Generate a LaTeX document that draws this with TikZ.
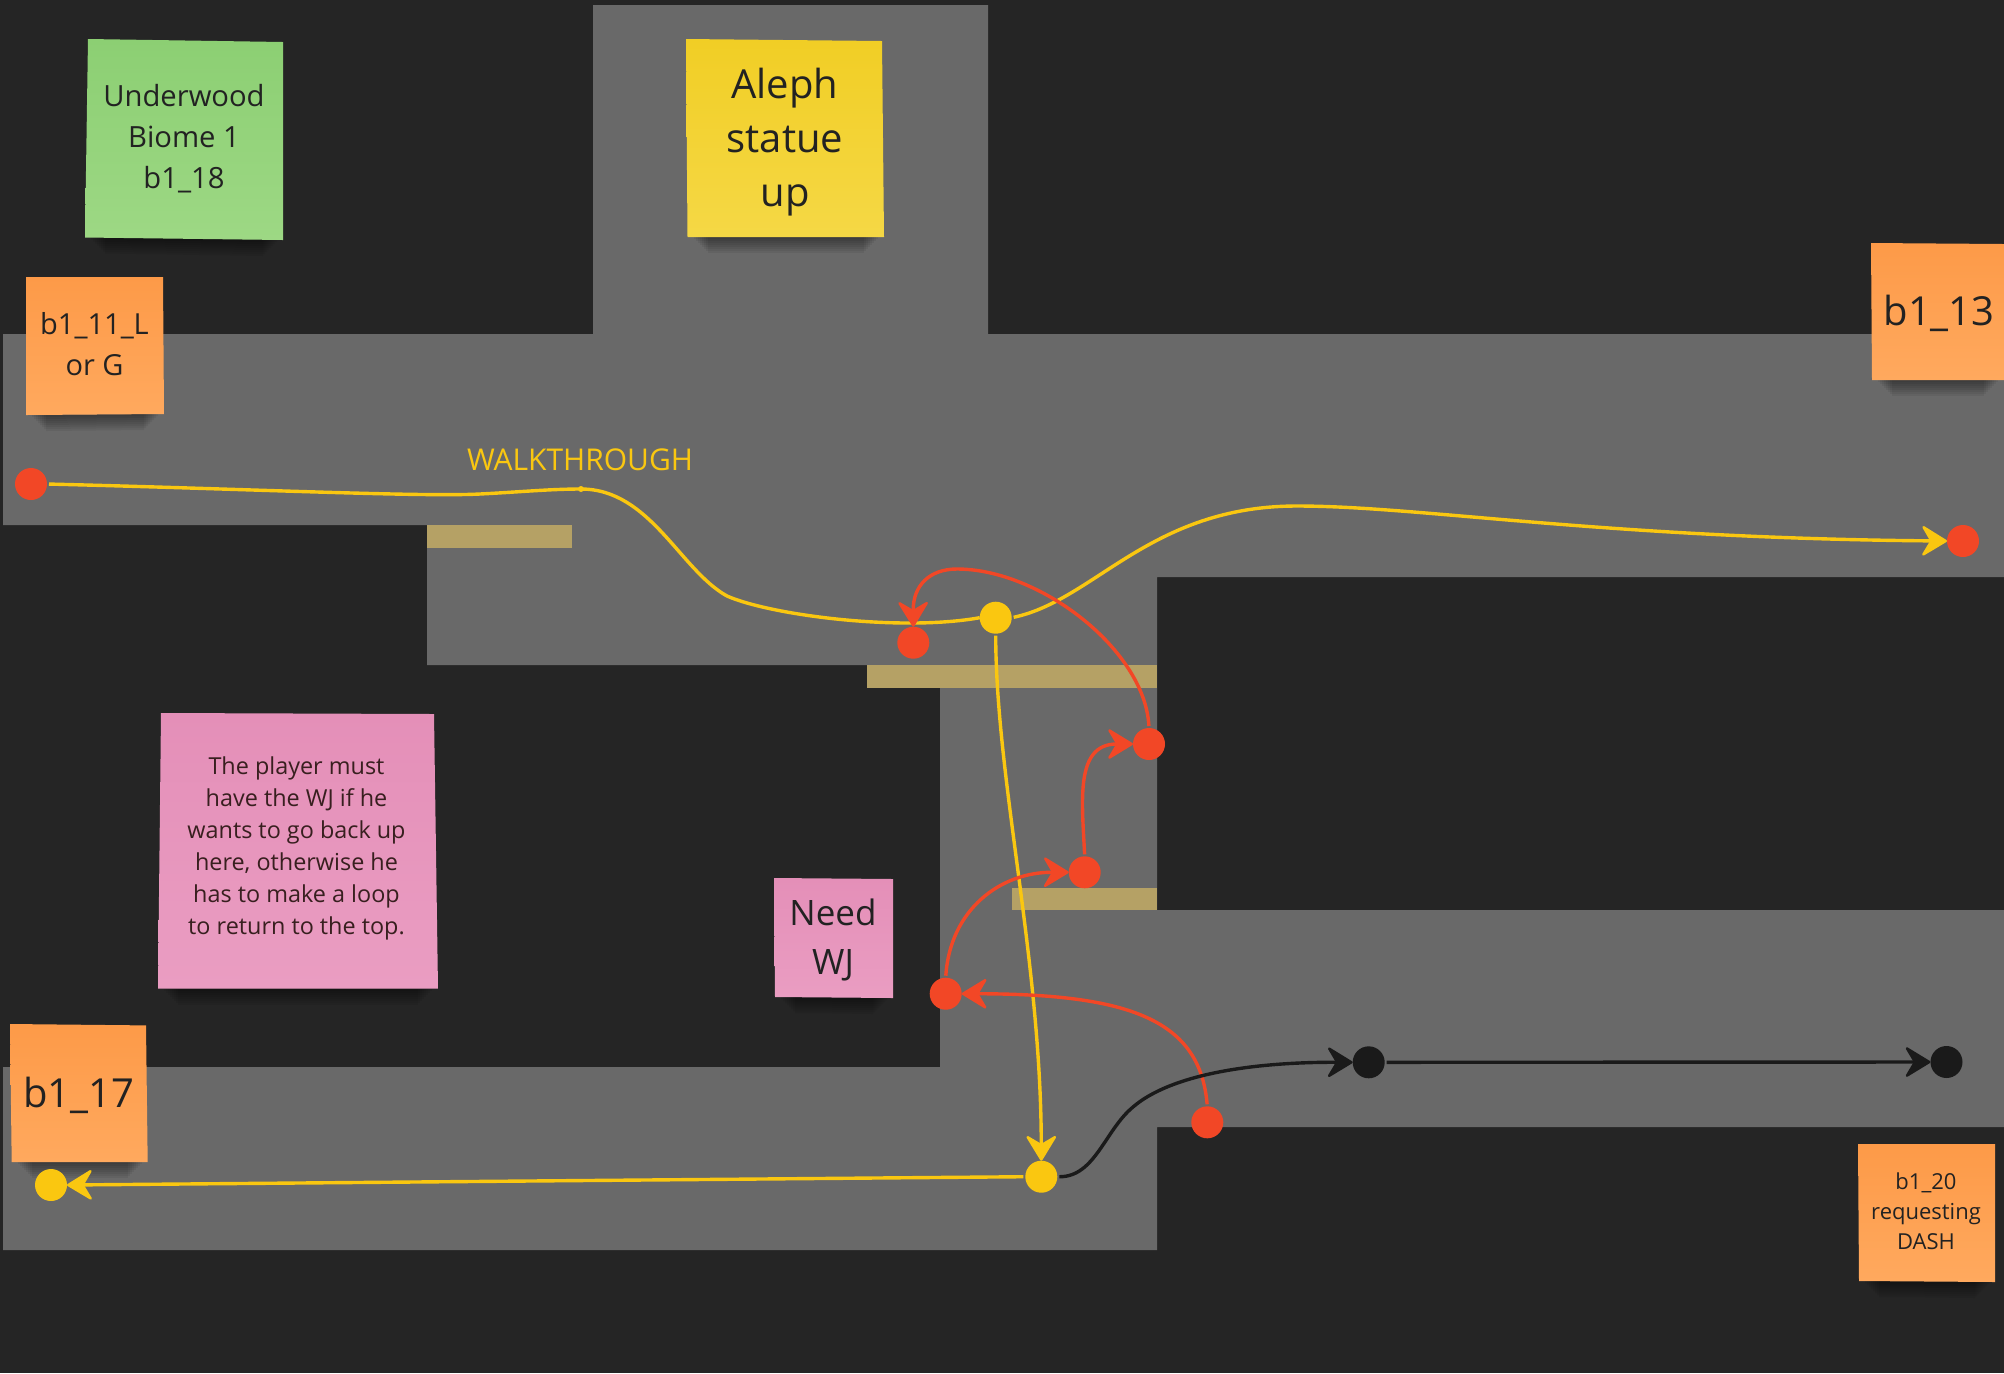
\documentclass[tikz,border=0pt]{standalone}
\usepackage{fontspec}
\setmainfont{Open Sans}
\usetikzlibrary{arrows.meta}
\definecolor{bgdark}{HTML}{252525}
\definecolor{corr}{HTML}{696969}
\definecolor{bandc}{HTML}{B5A165}
\definecolor{redc}{HTML}{F24726}
\definecolor{yelc}{HTML}{FAC710}
\definecolor{blkc}{HTML}{1A1A1A}
\definecolor{inkc}{HTML}{222222}
\definecolor{greenT}{HTML}{8CCF73}
\definecolor{greenB}{HTML}{9DD884}
\definecolor{yellT}{HTML}{F1CE25}
\definecolor{yellB}{HTML}{F5D845}
\definecolor{oranT}{HTML}{FD9A48}
\definecolor{oranB}{HTML}{FFA95E}
\definecolor{pinkT}{HTML}{E48FB8}
\definecolor{pinkB}{HTML}{EA9DC2}
\tikzset{
  dot/.style={circle,minimum size=16pt,inner sep=0pt,outer sep=0pt,draw=none},
  reddot/.style={dot,fill=redc},
  yeldot/.style={dot,fill=yelc},
  blkdot/.style={dot,fill=blkc},
  conn/.style={line width=1.7pt,shorten <=1pt,-{Stealth[length=14pt,width=17pt,inset=5pt,round,line width=1.2pt]}},
  plainconn/.style={line width=1.7pt,shorten <=1pt},
  redconn/.style={conn,draw=redc},
  yelconn/.style={conn,draw=yelc},
  blkconn/.style={conn,draw=blkc},
  notetext/.style={align=center,text=inkc,inner sep=0pt},
}
% four corners, then top and bottom colours
\newcommand{\stickynote}[6]{%
  \foreach \sh/\ins in {2/3,4/4,6/5,8/6,10/7,12/8,14/9,16/10}{
    \fill[black,opacity=.06] ([xshift=\ins pt,yshift=-\sh*0.5pt]#4) -- ([xshift=-\ins pt,yshift=-\sh*0.5pt]#3) -- ([xshift=-\ins pt]#3) -- ([xshift=\ins pt]#4) -- cycle;
  }
  \shade[top color=#5,bottom color=#6] (#1) -- (#2) -- (#3) -- (#4) -- cycle;
}
\begin{document}
\begin{tikzpicture}[x=0.5pt,y=-0.5pt]
\useasboundingbox (0,0) rectangle (2004,1373);
\fill[bgdark] (0,0) rectangle (2004,1373);
% corridors
\fill[corr] (593,5) -- (988,5) -- (988,334) -- (2004,334) -- (2004,577) -- (1157,577)
  -- (1157,910) -- (2004,910) -- (2004,1127) -- (1157,1127) -- (1157,1250) -- (3,1250)
  -- (3,1067) -- (940,1067) -- (940,665) -- (427,665) -- (427,525) -- (3,525) -- (3,334)
  -- (593,334) -- cycle;
% bands
\fill[bandc] (427,525) rectangle (572,548);
\fill[bandc] (867,665) rectangle (1157,688);
\fill[bandc] (1012,888) rectangle (1157,910);
% notes
\stickynote{88,39}{283,42}{283,240}{85,237.5}{greenT}{greenB}
\stickynote{686,39}{882,41}{884,237}{687.5,237}{yellT}{yellB}
\stickynote{26,277}{163,277}{164,414}{26,415}{oranT}{oranB}
\stickynote{1871,243}{2004,244}{2004,380}{1872,380}{oranT}{oranB}
\stickynote{161,713}{434,714}{438,988.6}{158,988.6}{pinkT}{pinkB}
\stickynote{774,878}{893,879}{893,998}{775,997}{pinkT}{pinkB}
\stickynote{10,1024}{146,1025.4}{147.7,1162}{11.7,1162}{oranT}{oranB}
\stickynote{1858,1144}{1995,1144}{1995,1282}{1859,1281}{oranT}{oranB}
% note texts
\node[notetext,font=\fontsize{14.6}{20.5}\selectfont] (n18) at (184,138.3) {Underwood\\Biome 1\\b1\_18};
\node[notetext,font=\fontsize{20}{27}\selectfont] (naleph) at (785,142) {Aleph\\statue\\up};
\node[notetext,font=\fontsize{14.5}{20.5}\selectfont] (n11) at (94.5,344.5) {b1\_11\_L\\or G};
\node[notetext,font=\fontsize{20}{27}\selectfont] (n13) at (1939,313.5) {b1\_13};
\node[notetext,font=\fontsize{20}{27}\selectfont] (n17) at (79,1095.5) {b1\_17};
\node[notetext,text=inkc!90!red,font=\fontsize{11.7}{16}\selectfont] (npink) at (296.5,848.7) {The player must\\have the WJ if he\\wants to go back up\\here, otherwise he\\has to make a loop\\to return to the top.};
\node[notetext,font=\fontsize{17.5}{24.5}\selectfont] (nwj) at (833,939.5) {Need\\WJ};
\node[notetext,font=\fontsize{11}{15}\selectfont] (n20) at (1926,1211) {b1\_20\\requesting\\DASH};
\node[text=yelc,inner sep=0pt,font=\fontsize{15}{18}\selectfont] (walk) at (580,460) {WALKTHROUGH};
% nodes
\node[reddot] (start) at (31,484) {};
\node[circle,fill=yelc,minimum size=3pt,inner sep=0pt] (wp) at (581,489) {};
\node[reddot] (ra) at (913.3,642.7) {};
\node[yeldot] (y1) at (995.7,617.7) {};
\node[reddot] (rend) at (1963,541) {};
\node[reddot] (r2) at (1149,744) {};
\node[reddot] (r3) at (1084.7,872.3) {};
\node[reddot] (r4) at (945.7,993.7) {};
\node[reddot] (r5) at (1207.3,1122.3) {};
\node[yeldot] (y2) at (1041.3,1176.7) {};
\node[yeldot] (yend) at (51,1185) {};
\node[blkdot] (b1) at (1368.7,1062.3) {};
\node[blkdot] (b2) at (1946.5,1062) {};
% yellow walkthrough
\draw[plainconn,draw=yelc] (start.east) .. controls (250,489) and (420,497) .. (480,494) .. controls (520,492) and (550,489) .. (wp.center);
\draw[plainconn,draw=yelc,shorten <=0pt] (wp.center) .. controls (650,489) and (680,570) .. (727,596) .. controls (770,615) and (900,632) .. (y1.west);
\draw[yelconn] (y1.east) .. controls (1095,600) and (1150,506) .. (1297,506) .. controls (1420,506) and (1600,538) .. (rend.west);
\draw[yelconn] (y1.south) .. controls (996,780) and (1041,960) .. (y2.north);
\draw[yelconn] (y2.west) -- (yend.east);
% red jumps
\draw[redconn] (r2.north) .. controls (1145,650) and (1040,569) .. (957,569) .. controls (930,569) and (913,585) .. (ra.north);
\draw[redconn] (r3.north) .. controls (1082,800) and (1075,744) .. (r2.west);
\draw[redconn] (r4.north) .. controls (950,910) and (1000,872) .. (r3.west);
\draw[redconn] (r5.north) .. controls (1200,1020) and (1130,994) .. (r4.east);
% black route
\draw[blkconn] (y2.east) .. controls (1095,1177) and (1105,1130) .. (1133,1107) .. controls (1170,1075) and (1250,1062) .. (b1.west);
\draw[blkconn] (b1.east) -- (b2.west);
\end{tikzpicture}
\end{document}
